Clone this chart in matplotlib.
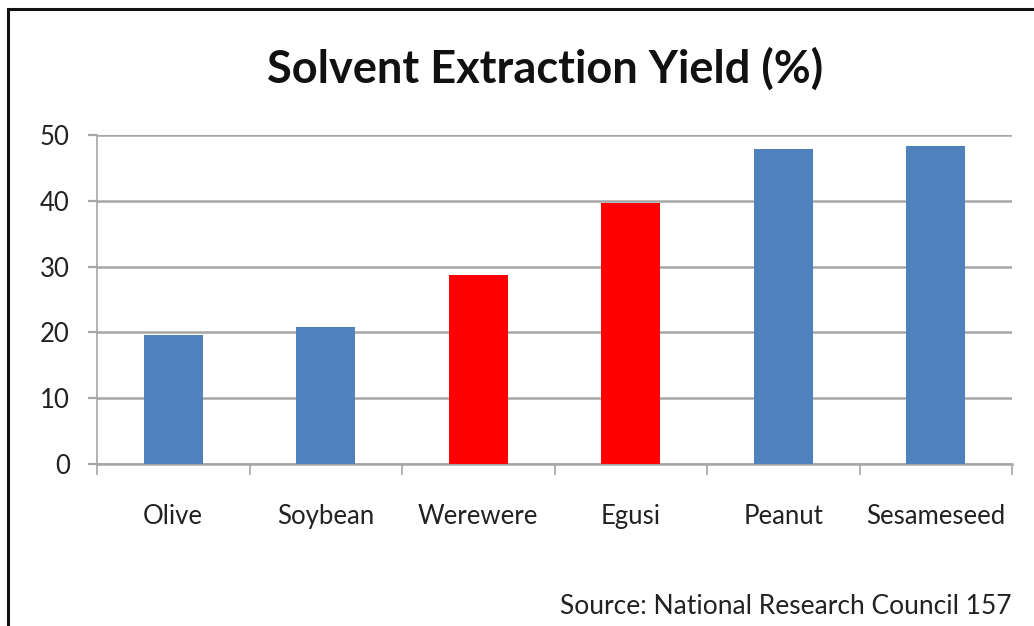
import numpy as np
import matplotlib.pyplot as plt
from matplotlib.patches import Rectangle

plt.rcParams['font.family'] = ['Lato', 'DejaVu Sans']

crops = ["Olive", "Soybean", "Werewere", "Egusi", "Peanut", "Sesameseed"]
yields = [19.6, 20.8, 28.7, 39.7, 47.8, 48.3]
highlight = [False, False, True, True, False, False]

blue = "#4F81BD"
red = "#FF0000"
colors = [red if h else blue for h in highlight]

fig = plt.figure(figsize=(10.34, 6.26), dpi=100)
ax = fig.add_axes([97 / 1034, 1 - 464 / 626, (1012 - 97) / 1034, (464 - 135) / 626])

x = np.arange(len(crops))
ax.bar(x, yields, width=0.39, color=colors, zorder=3)

ax.set_xlim(-0.5, len(crops) - 0.5)
ax.set_ylim(0, 50)
ax.set_yticks(np.arange(0, 51, 10))
ax.set_xticks(x)
ax.set_xticklabels(crops)
ax.set_xticks(np.arange(-0.5, len(crops)), minor=True)

ax.yaxis.grid(True, color="#A6A6A6", linewidth=1.8, zorder=0)
for s in ["top", "right"]:
    ax.spines[s].set_visible(False)
ax.spines["left"].set_color("#A6A6A6")
ax.spines["bottom"].set_color("#A6A6A6")
ax.spines["left"].set_linewidth(1.2)
ax.spines["bottom"].set_linewidth(1.8)

ax.tick_params(axis="y", length=6.5, width=1.6, color="#A6A6A6", labelsize=18.5, pad=13, labelcolor="#222222")
ax.tick_params(axis="x", which="major", length=0, labelsize=18.5, pad=29, labelcolor="#222222")
ax.tick_params(axis="x", which="minor", length=8, width=1.2, color="#A6A6A6")

fig.text(545 / 1034, 1 - 69 / 626, "Solvent Extraction Yield (%)", ha="center", va="center",
         fontsize=32.5, fontweight="bold", color="#111111")
fig.text(1012 / 1034, 1 - 607 / 626, "Source: National Research Council 157", ha="right", va="center",
         fontsize=19, color="#222222")

# thin black frame showing on the left and top
fig.patches.append(Rectangle((8 / 1034, -0.1), 1.2, 1.1 - 9 / 626, transform=fig.transFigure,
                             fill=False, edgecolor="#111111", linewidth=2.2))

fig.savefig("out.png", dpi=100)
